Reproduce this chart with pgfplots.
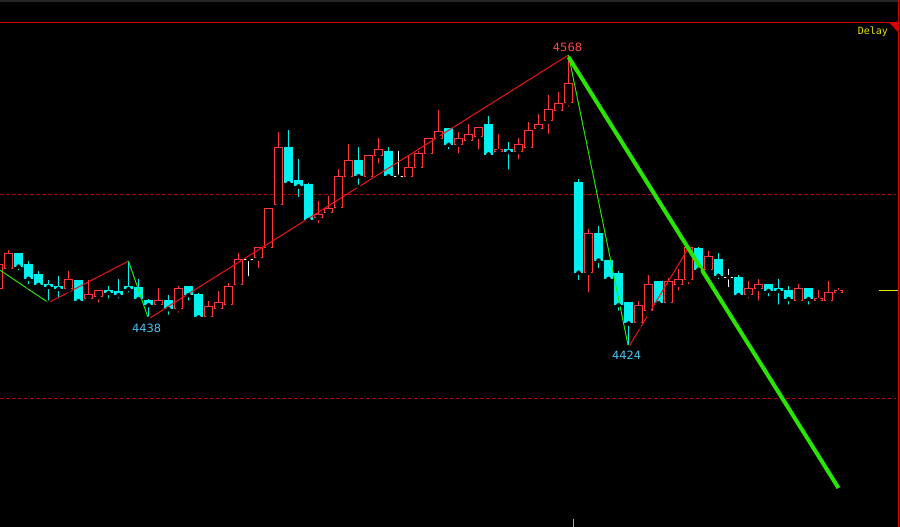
\documentclass[border=0pt]{standalone}
\usepackage{pgfplots}
\usepackage{pgfplotstable}
\pgfplotsset{compat=1.18}
\usepackage{fontspec}
\newfontfamily\dejavu{DejaVu Sans}
\newfontfamily\dmono{DejaVu Sans Mono}
\definecolor{cred}{RGB}{255,55,55}
\definecolor{ccyan}{RGB}{0,240,240}
\definecolor{cgreen}{RGB}{40,230,0}
\definecolor{zred}{RGB}{240,20,20}
\definecolor{dred}{RGB}{175,0,0}
\definecolor{framered}{RGB}{215,0,0}
\definecolor{lblue}{RGB}{70,195,245}
\definecolor{lred}{RGB}{255,70,70}
\definecolor{cyel}{RGB}{230,230,0}
% up candles (red, hollow): x open high low close
\pgfplotstableread{
x o h l c
-1.5 4453 4465 4453 4465
8.5 4463 4472 4462 4470
68.5 4453 4461.5 4452 4457.5
88.5 4448 4457 4446 4450
98.5 4449 4452 4445 4452
158.5 4445 4453 4443 4447
178.5 4443 4454 4440 4453
208.5 4439 4447 4438 4444
218.5 4443 4451.5 4443 4446
228.5 4445 4455.5 4444 4454
238.5 4455 4470.5 4454 4467.5
258.5 4468 4473 4462 4473
268.5 4473 4492.5 4473 4492.5
278.5 4494.5 4530 4493 4522.5
318.5 4488 4496 4484 4489.5
328.5 4490.5 4498.5 4490.5 4492.5
338.5 4493 4512 4491 4508
348.5 4508 4524 4508 4516
368.5 4508 4518.5 4508 4518.5
378.5 4518.5 4527 4513.5 4521.5
408.5 4508 4518.5 4508 4512.5
418.5 4512.5 4520.5 4511.5 4519.5
428.5 4519.5 4527 4517.5 4527
438.5 4527 4541 4525 4530.5
458.5 4524 4530 4518.5 4527
468.5 4526 4534 4526 4529
478.5 4528 4532.5 4520.5 4532.5
498.5 4520.5 4529 4519.5 4521.5
518.5 4520.5 4527 4515.5 4524
528.5 4522.5 4535 4522.5 4531
538.5 4532 4539 4529.5 4534
548.5 4535.5 4548.5 4528 4541
558.5 4540.5 4550 4539.5 4544
568.5 4544.5 4568 4541.5 4554
588.5 4461 4482.5 4450 4480
638.5 4436 4447 4434 4444.5
648.5 4442 4459.5 4440 4455
668.5 4446 4458 4445 4456.5
678.5 4455 4462.5 4451 4457.5
688.5 4457.5 4473 4454 4473
708.5 4462.5 4471.5 4462.5 4468.5
748.5 4450 4456.5 4447 4453
758.5 4453 4457.5 4446 4455
798.5 4447 4455 4445 4453
818.5 4447 4452 4446 4448
828.5 4447 4456.5 4447 4451
838.5 4451 4453 4449 4452
}\uptab
% down candles (cyan, filled)
\pgfplotstableread{
x o h l c
18.5 4470 4470 4461 4464
28.5 4465 4466.5 4454 4458
38.5 4460 4461.5 4454 4455
48.5 4455 4457 4446 4454
58.5 4454 4459 4447 4453
78.5 4457 4457 4446 4447
108.5 4452 4454 4447 4451
118.5 4451.5 4457.5 4447 4450
128.5 4454 4466.5 4450 4453
138.5 4453.5 4457.5 4446 4448
148.5 4447 4448 4438 4445
168.5 4447 4450 4439 4443
188.5 4454 4454 4446 4450
198.5 4450 4451 4438 4439
288.5 4522.5 4531 4503.5 4505
298.5 4506 4517 4497 4503.5
308.5 4504 4505 4486.5 4487
358.5 4516 4522.5 4503 4508.5
388.5 4520.5 4522.5 4507 4508.5
448.5 4532 4532 4520.5 4524
488.5 4534 4538 4519 4519
508.5 4521.5 4525 4510.5 4520.5
578.5 4505 4507 4456 4461
598.5 4480 4484 4462 4467
608.5 4467 4467 4456 4458
618.5 4460.5 4461.5 4441 4445
628.5 4446 4446 4424 4436
658.5 4456.5 4456.5 4445 4446
698.5 4472.5 4473.5 4461 4462.5
718.5 4467.5 4470.5 4456.5 4459.5
738.5 4458.5 4459.5 4449 4450
768.5 4455 4455 4448 4452
778.5 4453 4457.5 4444 4452
788.5 4452 4454 4444 4448
808.5 4453 4453 4444 4448
}\dntab
% doji candles (white)
\pgfplotstableread{
x o h l c
248.5 4467.5 4468.5 4458 4467.5
398.5 4508 4520.5 4506.5 4508
728.5 4458.5 4462.5 4452.5 4458.5
}\dojitab
\begin{document}
\begin{tikzpicture}
\begin{axis}[
  width=900pt, height=527pt, scale only axis,
  xmin=0, xmax=900, ymin=4335.49, ymax=4595.09,
  axis line style={draw=none}, ticks=none,
  axis background/.style={fill=black},
]
% top frame
\fill[gray!30!black] (axis cs:0,4595.09) rectangle (axis cs:900,4594.1);
\addplot[framered, line width=1pt] coordinates {(0,4584.0) (898.5,4584.0)};
\addplot[framered, line width=1pt] coordinates {(898.5,4335.49) (898.5,4595.09)};
\fill[framered] (axis cs:889,4584.0) -- (axis cs:898.5,4584.0) -- (axis cs:898.5,4579.1) -- cycle;
% dashed reference lines
\addplot[dred, line width=1pt, dash pattern=on 3.5pt off 2.5pt] coordinates {(0,4499.28) (896,4499.28)};
\addplot[dred, line width=1pt, dash pattern=on 3.5pt off 2.5pt] coordinates {(0,4398.79) (896,4398.79)};
% last price marker
\addplot[cyel, line width=1pt] coordinates {(879,4452.0) (898,4452.0)};
% bottom tick
\addplot[gray!70, line width=1pt] coordinates {(573.5,4335.49) (573.5,4339.4)};
% ---- wicks
\addplot[only marks, mark=none, error bars/.cd, y dir=plus, y explicit, error mark=none,
  error bar style={draw=cred, line width=1pt, solid}]
  table[x=x, y=l, y error expr=\thisrow{h}-\thisrow{l}] {\uptab};
\addplot[only marks, mark=none, error bars/.cd, y dir=plus, y explicit, error mark=none,
  error bar style={draw=ccyan, line width=1pt, solid}]
  table[x=x, y=l, y error expr=\thisrow{h}-\thisrow{l}] {\dntab};
\addplot[only marks, mark=none, error bars/.cd, y dir=plus, y explicit, error mark=none,
  error bar style={draw=white, line width=1pt, solid}]
  table[x=x, y=l, y error expr=\thisrow{h}-\thisrow{l}] {\dojitab};
% ---- bodies: red hollow
\addplot[only marks, mark=none, error bars/.cd, y dir=plus, y explicit, error mark=none,
  error bar style={draw=cred, line width=9pt, solid}]
  table[x=x, y expr=\thisrow{o}-0.246, y error expr=\thisrow{c}-\thisrow{o}+0.492] {\uptab};
\addplot[only marks, mark=none, error bars/.cd, y dir=plus, y explicit, error mark=none,
  error bar style={draw=black, line width=7pt, solid}]
  table[x=x, y expr=\thisrow{o}+0.246, y error expr={max(\thisrow{c}-\thisrow{o}-0.492,0)}] {\uptab};
% ---- bodies: cyan filled
\addplot[only marks, mark=none, error bars/.cd, y dir=plus, y explicit, error mark=none,
  error bar style={draw=ccyan, line width=9pt, solid}]
  table[x=x, y expr=\thisrow{c}-0.246, y error expr=\thisrow{o}-\thisrow{c}+0.492] {\dntab};
% ---- doji bars
\addplot[only marks, mark=none, error bars/.cd, x dir=both, x fixed=4.5, error mark=none,
  error bar style={draw=white, line width=1pt, solid}]
  table[x=x, y=o] {\dojitab};
% zigzag
\addplot[cgreen, line width=1pt] coordinates {(0,4462) (48.5,4446)};
\addplot[zred, line width=1pt] coordinates {(48.5,4446) (128.5,4466.5)};
\addplot[cgreen, line width=1pt] coordinates {(128.5,4466.5) (148.5,4438)};
\addplot[zred, line width=1pt] coordinates {(148.5,4438) (568.5,4568)};
\addplot[cgreen, line width=1pt] coordinates {(568.5,4568) (628.5,4424)};
\addplot[zred, line width=1pt] coordinates {(628.5,4424) (688.5,4473)};
\addplot[cgreen, line width=4pt] coordinates {(568.5,4567) (838.5,4354.7)};
% labels
\node[anchor=base, inner sep=0pt, text=lred, font=\dejavu\fontsize{11.4}{12}\selectfont] at (axis cs:567.5,4569.6) {4568};
\node[anchor=base, inner sep=0pt, text=lblue, font=\dejavu\fontsize{11.4}{12}\selectfont] at (axis cs:146.7,4431.5) {4438};
\node[anchor=base, inner sep=0pt, text=lblue, font=\dejavu\fontsize{11.4}{12}\selectfont] at (axis cs:626.7,4417.8) {4424};
\node[anchor=base west, inner sep=0pt, text=cyel, font=\dmono\fontsize{10}{12}\selectfont] at (axis cs:857.7,4578.2) {Delay};
\end{axis}
\end{tikzpicture}
\end{document}
